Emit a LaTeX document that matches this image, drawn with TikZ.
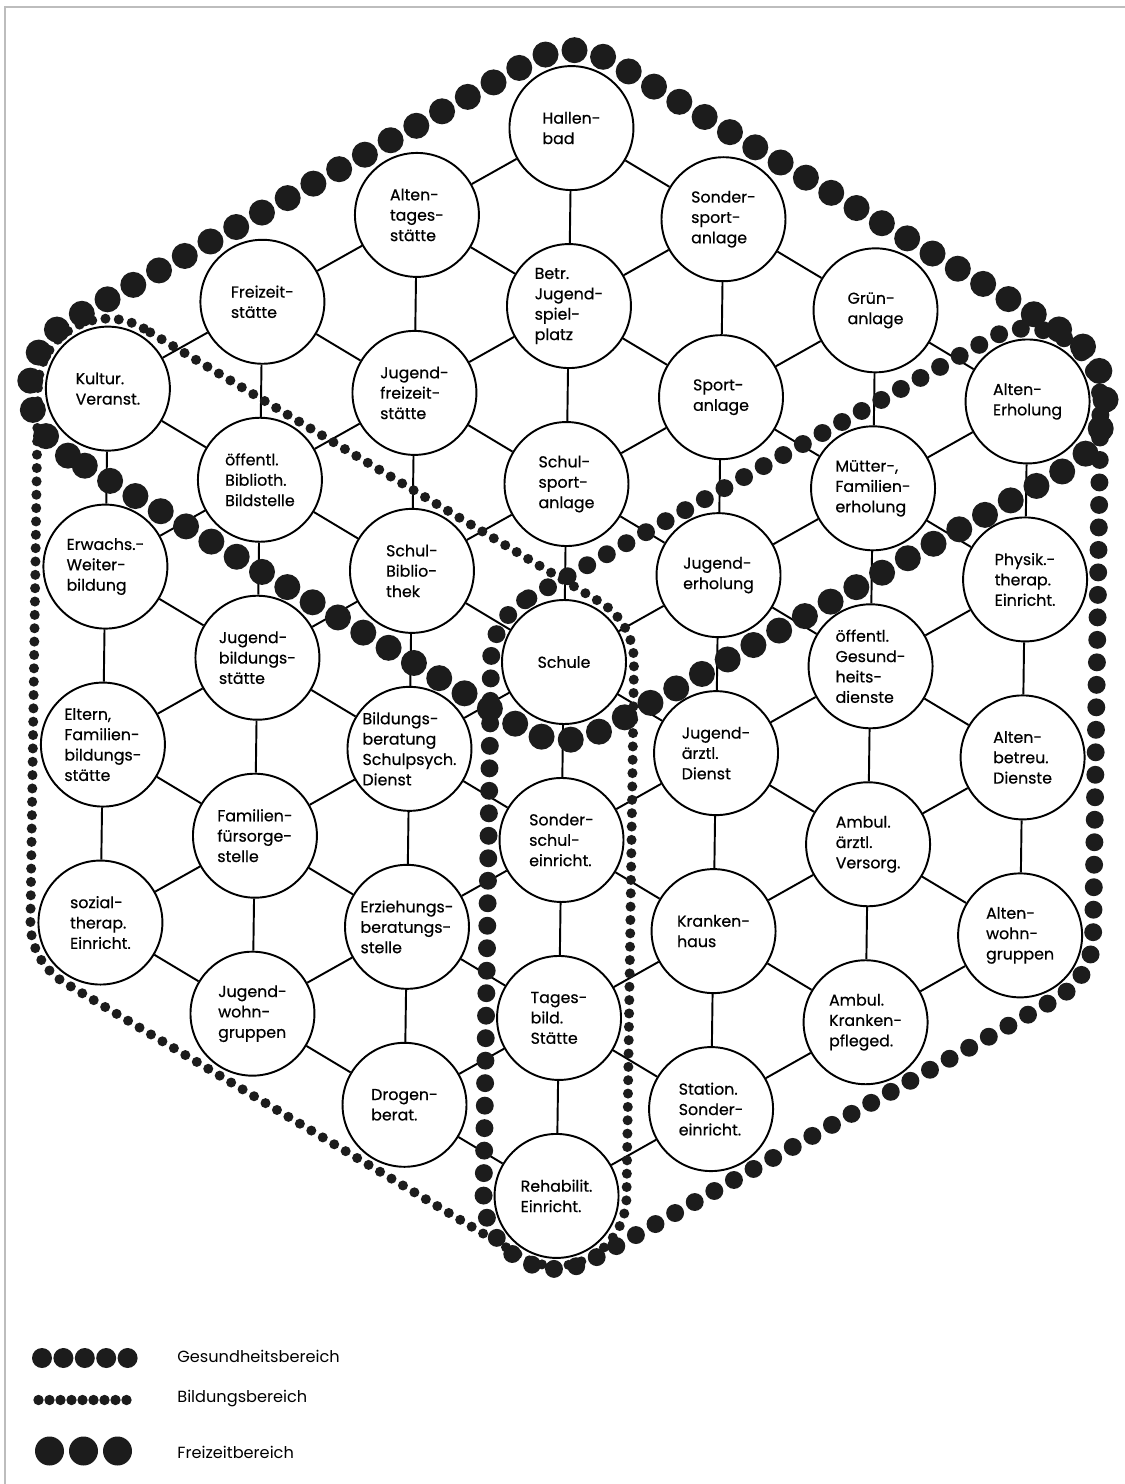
\documentclass[tikz,border=0pt]{standalone}
\usepackage{fontspec}
\setmainfont{Poppins}
\newfontfamily\stellenschrift{Poppins}[FakeBold=0.5]

\definecolor{punkt}{HTML}{1C1C1C}
\definecolor{rahmen}{HTML}{BDBDBD}

\tikzset{
  stelle/.style={circle, draw, line width=1.1pt, fill=white, minimum size=2.48cm, inner sep=0pt,
    align=left, font=\stellenschrift\fontsize{9}{11.6}\selectfont},
  verbindung/.style={line width=1.1pt},
  freizeitbereich/.style={draw=punkt, line width=14.8pt, line cap=round, dash pattern=on 0pt off 16.8pt},
  gesundheitsbereich/.style={draw=punkt, line width=10.2pt, line cap=round, dash pattern=on 0pt off 12.8pt},
  bildungsbereich/.style={draw=punkt, line width=5.7pt, line cap=round, dash pattern=on 0pt off 7.6pt},
  legende/.style={anchor=west, inner sep=0pt, font=\fontsize{9.2}{11}\selectfont}
}

\begin{document}
\begin{tikzpicture}[x=0.02cm, y=-0.02cm]
    \useasboundingbox (0,0) rectangle (1125,1484);
    \draw[rahmen, line width=1.2pt] (5,1484) -- (5,7) -- (1125,7);

    \begin{scope}[rotate around={-0.8:(564,662)}]
    % Einrichtungen: Spalte/Zeile/Text
    \foreach \spalte/\zeile/\txt in {
        0/0/{Kultur.\\Veranst.},
        0/1/{Erwachs.-\\Weiter-\\bildung},
        0/2/{Eltern,\\Familien-\\bildungs-\\stätte},
        0/3/{sozial-\\therap.\\Einricht.},
        1/0/{Freizeit-\\stätte},
        1/1/{öffentl.\\Biblioth.\\Bildstelle},
        1/2/{Jugend-\\bildungs-\\stätte},
        1/3/{Familien-\\fürsorge-\\stelle},
        1/4/{Jugend-\\wohn-\\gruppen},
        2/0/{Alten-\\tages-\\stätte},
        2/1/{Jugend-\\freizeit-\\stätte},
        2/2/{Schul-\\Biblio-\\thek},
        2/3/{Bildungs-\\beratung\\Schulpsych.\\Dienst},
        2/4/{Erziehungs-\\beratungs-\\stelle},
        2/5/{Drogen-\\berat.},
        3/0/{Hallen-\\bad},
        3/1/{Betr.\\Jugend-\\spiel-\\platz},
        3/2/{Schul-\\sport-\\anlage},
        3/3/{Schule},
        3/4/{Sonder-\\schul-\\einricht.},
        3/5/{Tages-\\bild.\\Stätte},
        3/6/{Rehabilit.\\Einricht.},
        4/0/{Sonder-\\sport-\\anlage},
        4/1/{Sport-\\anlage},
        4/2/{Jugend-\\erholung},
        4/3/{Jugend-\\ärztl.\\Dienst},
        4/4/{Kranken-\\haus},
        4/5/{Station.\\Sonder-\\einricht.},
        5/0/{Grün-\\anlage},
        5/1/{Mütter-,\\Familien-\\erholung},
        5/2/{öffentl.\\Gesund-\\heits-\\dienste},
        5/3/{Ambul.\\ärztl.\\Versorg.},
        5/4/{Ambul.\\Kranken-\\pfleged.},
        6/0/{Alten-\\Erholung},
        6/1/{Physik.-\\therap.\\Einricht.},
        6/2/{Alten-\\betreu.\\Dienste},
        6/3/{Alten-\\wohn-\\gruppen}}
      \node[stelle] (n\spalte\zeile) at ({564+153.3*(\spalte-3)}, {128+89*abs(\spalte-3)+178*\zeile}) {\txt};

    % senkrechte Verbindungen
    \foreach \spalte in {0,...,6}{
      \pgfmathtruncatemacro\zmax{5-abs(\spalte-3)}
      \foreach \zeile in {0,...,\zmax}{
        \pgfmathtruncatemacro\znext{\zeile+1}
        \draw[verbindung] (n\spalte\zeile) -- (n\spalte\znext);
      }
    }
    % schraege Verbindungen, linke Haelfte
    \foreach \spalte in {0,1,2}{
      \pgfmathtruncatemacro\zmax{3+\spalte}
      \pgfmathtruncatemacro\snext{\spalte+1}
      \foreach \zeile in {0,...,\zmax}{
        \pgfmathtruncatemacro\znext{\zeile+1}
        \draw[verbindung] (n\spalte\zeile) -- (n\snext\zeile) (n\spalte\zeile) -- (n\snext\znext);
      }
    }
    % schraege Verbindungen, rechte Haelfte
    \foreach \spalte in {4,5,6}{
      \pgfmathtruncatemacro\zmax{9-\spalte}
      \pgfmathtruncatemacro\sprev{\spalte-1}
      \foreach \zeile in {0,...,\zmax}{
        \pgfmathtruncatemacro\znext{\zeile+1}
        \draw[verbindung] (n\spalte\zeile) -- (n\sprev\zeile) (n\spalte\zeile) -- (n\sprev\znext);
      }
    }

    % Bereiche
    \draw[bildungsbereich] (139.1,334.38) arc[start angle=300, end angle=180, radius=70]
      -- (34.1,929) arc[start angle=180, end angle=120, radius=70]
      -- (529,1256.62) arc[start angle=120, end angle=0, radius=70]
      -- (634,662) arc[start angle=0, end angle=-60, radius=70] -- cycle;
    \draw[gesundheitsbereich] (527.5,598.78) -- (987.4,331.78) arc[start angle=240, end angle=360, radius=73]
      -- (1096.9,929) arc[start angle=0, end angle=60, radius=73]
      -- (600.5,1259.22) arc[start angle=60, end angle=180, radius=73]
      -- (491,662) arc[start angle=180, end angle=240, radius=73] -- cycle;
    \draw[freizeitbereich] (65.1,462.55) arc[start angle=120, end angle=240, radius=78]
      -- (525,60.45) arc[start angle=240, end angle=300, radius=78]
      -- (1062.9,327.45) arc[start angle=-60, end angle=60, radius=78]
      -- (603,729.55) arc[start angle=60, end angle=120, radius=78] -- cycle;
    \end{scope}

    % Legende
    \foreach \i in {0,...,4} \fill[punkt] ({42+21.4*\i},1358) circle (10);
    \foreach \i in {0,...,8} \fill[punkt] ({38.5+11*\i},1400) circle (5.2);
    \foreach \i in {0,...,2} \fill[punkt] ({49.5+34*\i},1451) circle (14.5);
    \node[legende] (lgesund) at (177,1356) {Gesundheitsbereich};
    \node[legende] (lbildung) at (177,1399) {Bildungsbereich};
    \node[legende] (lfreizeit) at (177,1452) {Freizeitbereich};
\end{tikzpicture}
\end{document}
